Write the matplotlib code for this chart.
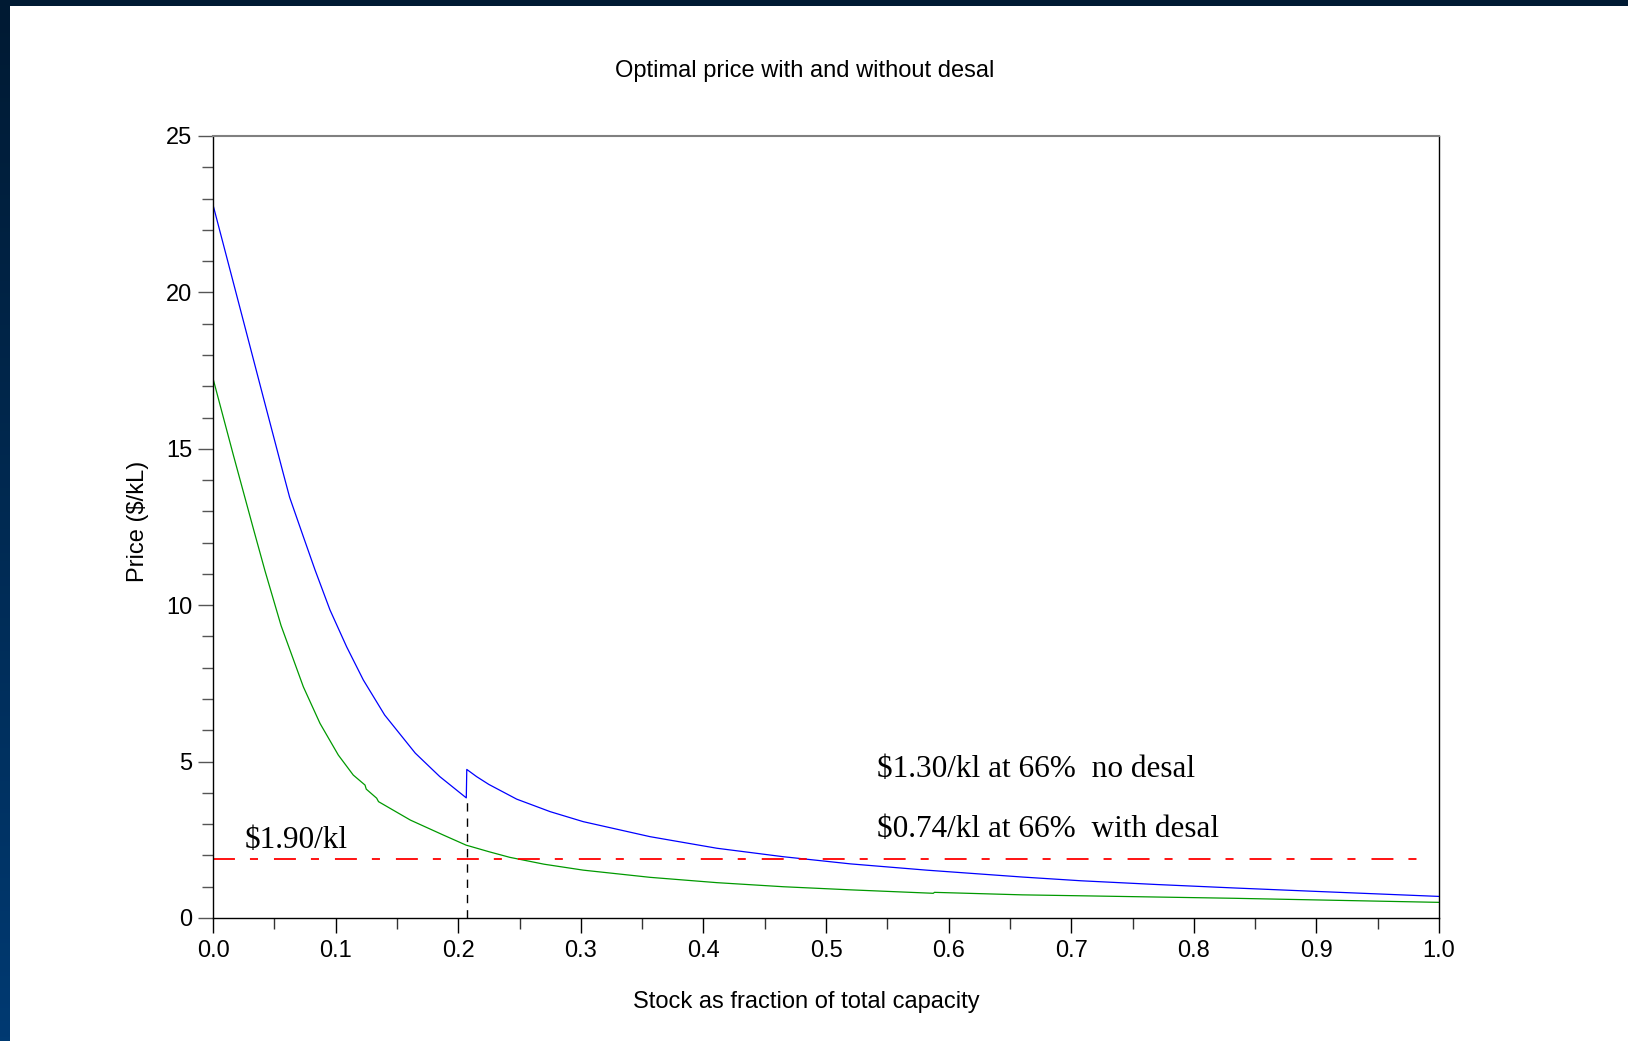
import numpy as np
import matplotlib
matplotlib.use("Agg")
import matplotlib.pyplot as plt
from matplotlib.ticker import MultipleLocator

# Data
stock_no_desal = [0.0, 0.0247, 0.041, 0.0574, 0.0625, 0.0737, 0.0832, 0.0954, 0.109,
                  0.1226, 0.140, 0.165, 0.185, 0.2066, 0.2070, 0.215, 0.225, 0.2477,
                  0.275, 0.302, 0.3565, 0.411, 0.465, 0.52, 0.582, 0.66, 0.708, 0.77,
                  0.833, 0.9, 1.0]
price_no_desal = [22.8, 19.1, 16.65, 14.2, 13.45, 12.19, 11.13, 9.85, 8.67,
                  7.61, 6.49, 5.27, 4.52, 3.84, 4.75, 4.52, 4.27, 3.80,
                  3.40, 3.08, 2.60, 2.23, 1.96, 1.73, 1.53, 1.31, 1.19, 1.07,
                  0.96, 0.85, 0.69]

stock_desal = [0.0, 0.0166, 0.0329, 0.0424, 0.0555, 0.0737, 0.0873, 0.1022, 0.1144,
               0.124, 0.125, 0.1335, 0.135, 0.161, 0.188, 0.2064, 0.225, 0.242,
               0.27, 0.302, 0.3565, 0.411, 0.465, 0.52, 0.5875, 0.5885, 0.66, 0.708,
               0.833, 1.0]
price_desal = [17.25, 14.8, 12.45, 11.1, 9.35, 7.39, 6.22, 5.21, 4.57,
               4.25, 4.12, 3.83, 3.72, 3.13, 2.65, 2.33, 2.12, 1.94,
               1.72, 1.53, 1.30, 1.13, 1.0, 0.9, 0.79, 0.82, 0.74, 0.71,
               0.63, 0.50]

desal_cost = 1.90          # $/kl, horizontal reference
switch_stock = 0.207       # stock level where the no-desal price jumps
switch_price = 3.84

notes = ["$1.30/kl at 66%  no desal", "$0.74/kl at 66%  with desal", "$1.90/kl"]
note_pos = [(0.5416, 4.5), (0.5416, 2.58), (0.026, 2.23)]

plt.rcParams['lines.scale_dashes'] = False
sans = 'Liberation Sans'
serif = 'Liberation Serif'

fig = plt.figure(figsize=(16.28, 10.41), dpi=100)
fig.patch.set_facecolor('white')

# dark frame on the left (gradient) and along the top
strip = fig.add_axes([0, 0, 10 / 1628, 1])
grad = np.linspace(0, 1, 256).reshape(-1, 1)
cmap = matplotlib.colors.LinearSegmentedColormap.from_list('frame', ['#001a33', '#003a72'])
strip.imshow(grad, aspect='auto', cmap=cmap, extent=[0, 1, 0, 1])
strip.axis('off')
top = fig.add_axes([0, 1 - 6 / 1041, 1, 6 / 1041])
top.set_facecolor('#001a33')
top.set_xticks([])
top.set_yticks([])
for s in top.spines.values():
    s.set_visible(False)

ax = fig.add_axes([213 / 1628, 1 - 918 / 1041, 1226 / 1628, 782 / 1041])

ax.plot(stock_no_desal, price_no_desal, color='#0000ff', lw=0.9)
ax.plot(stock_desal, price_desal, color='#009900', lw=0.9)

red = ax.axhline(desal_cost, xmin=0, xmax=0.99, color='#ff0000', lw=1.3)
red.set_dashes([15.8, 10.8, 5.8, 11.5])
vl = ax.vlines(switch_stock, 0, switch_price, color='black', lw=1.0)
vl.set_linestyle((0, (6, 5)))

for txt, (x, y) in zip(notes, note_pos):
    ax.text(x, y, txt, fontsize=22.5, family=serif, color='black', ha='left', va='baseline')

ax.set_xlim(0, 1)
ax.set_ylim(0, 25)
ax.xaxis.set_major_locator(MultipleLocator(0.1))
ax.xaxis.set_minor_locator(MultipleLocator(0.05))
ax.yaxis.set_major_locator(MultipleLocator(5))
ax.yaxis.set_minor_locator(MultipleLocator(1))
ax.xaxis.set_major_formatter(matplotlib.ticker.FormatStrFormatter('%.1f'))

ax.tick_params(axis='x', which='major', length=11, width=1, color='black', pad=5)
ax.tick_params(axis='x', which='minor', length=8, width=1, color='#333333')
ax.tick_params(axis='y', which='major', length=11, width=1, color='#555555', pad=4)
ax.tick_params(axis='y', which='minor', length=8, width=1, color='#555555')
for lab in ax.get_xticklabels() + ax.get_yticklabels():
    lab.set_fontsize(17)
    lab.set_family(sans)

ax.spines['top'].set_color('#808080')
ax.spines['top'].set_linewidth(1.5)
for side in ['left', 'right', 'bottom']:
    ax.spines[side].set_color('black')
    ax.spines[side].set_linewidth(1.0)

fig.text(805 / 1628, 1 - 71.5 / 1041, 'Optimal price with and without desal',
         fontsize=17, family=sans, ha='center', va='center')
fig.text(806 / 1628, 1 - 1002 / 1041, 'Stock as fraction of total capacity',
         fontsize=17, family=sans, ha='center', va='center')
fig.text(138 / 1628, 1 - 521 / 1041, 'Price ($/kL)', fontsize=17, family=sans,
         ha='center', va='center', rotation=90)

fig.savefig('out.png', dpi=100)
